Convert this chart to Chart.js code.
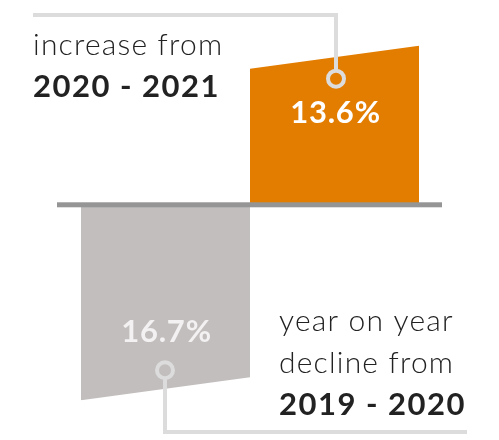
<!DOCTYPE html>
<html>
<head>
<meta charset="utf-8">
<script src="https://cdn.jsdelivr.net/npm/chart.js@4.4.0/dist/chart.umd.min.js"></script>
<style>
  html, body { margin: 0; padding: 0; background: #fff; }
  #chart { display: block; }
</style>
</head>
<body>
<canvas id="chart" width="499" height="440"></canvas>
<script>
// Dados do gráfico
const categories = ['2019 - 2020', '2020 - 2021'];
const changes = [-16.7, 13.6];
const valueLabels = ['16.7%', '13.6%'];
const barColors = ['#c2bebd', '#e37d00'];
const upCaption = ['increase from', '2020 - 2021'];
const downCaption = ['year on year', 'decline from', '2019 - 2020'];

const SLANT = 23;
const FONT = 'Lato, "Open Sans", sans-serif';

// Recorta as barras com a ponta inclinada
const slantClip = {
  id: 'slantClip',
  beforeDatasetsDraw(chart) {
    const ctx = chart.ctx;
    const bars = chart.getDatasetMeta(0).data;
    ctx.save();
    ctx.beginPath();
    bars.forEach((b) => {
      const l = b.x - b.width / 2;
      const r = b.x + b.width / 2;
      if (b.y < b.base) {
        ctx.moveTo(l, b.y + SLANT);
        ctx.lineTo(r, b.y);
        ctx.lineTo(r, b.base);
        ctx.lineTo(l, b.base);
      } else {
        ctx.moveTo(l, b.base);
        ctx.lineTo(r, b.base);
        ctx.lineTo(r, b.y - SLANT);
        ctx.lineTo(l, b.y);
      }
      ctx.closePath();
    });
    ctx.clip();
  },
  afterDatasetsDraw(chart) {
    chart.ctx.restore();
  }
};

function texto(ctx, str, x, y, font, spacing) {
  ctx.font = font;
  ctx.letterSpacing = spacing + 'px';
  ctx.fillText(str, x, y);
}

// Linha de base, conectores e textos
const decor = {
  id: 'decor',
  afterDraw(chart) {
    const ctx = chart.ctx;
    const area = chart.chartArea;
    const zero = chart.scales.y.getPixelForValue(0);
    const bars = chart.getDatasetMeta(0).data;
    const down = bars[0];
    const up = bars[1];

    ctx.save();
    ctx.fillStyle = '#959595';
    ctx.fillRect(area.left - 24, zero - 2.5, area.right - area.left + 47, 5);

    ctx.strokeStyle = '#dcdcdc';
    ctx.lineWidth = 4;
    // conector de cima
    const cu = { x: up.x + 1.5, y: up.y + 33 };
    ctx.beginPath();
    ctx.moveTo(cu.x, cu.y - 8);
    ctx.lineTo(cu.x, 15);
    ctx.lineTo(33, 15);
    ctx.stroke();
    ctx.beginPath();
    ctx.arc(cu.x, cu.y, 8, 0, Math.PI * 2);
    ctx.stroke();
    // conector de baixo
    const cd = { x: down.x - 0.5, y: down.y - 30 };
    ctx.beginPath();
    ctx.moveTo(cd.x, cd.y + 8);
    ctx.lineTo(cd.x, 432);
    ctx.lineTo(467, 432);
    ctx.stroke();
    ctx.beginPath();
    ctx.arc(cd.x, cd.y, 8, 0, Math.PI * 2);
    ctx.stroke();

    const light = '300 30px ' + FONT;
    const bold = 'bold 31px ' + FONT;

    // valores
    ctx.textAlign = 'center';
    ctx.textBaseline = 'middle';
    ctx.fillStyle = '#ffffff';
    texto(ctx, valueLabels[1], up.x + 1, up.y + 67, bold, 0.8);
    ctx.fillStyle = '#f3f1f1';
    texto(ctx, valueLabels[0], down.x + 1, down.y - 68, bold, 0.8);

    // legendas
    ctx.textAlign = 'left';
    ctx.textBaseline = 'alphabetic';
    ctx.fillStyle = '#222222';
    texto(ctx, upCaption[0], 33, 55, light, 1.2);
    texto(ctx, upCaption[1], 33, 97, bold, 1.5);
    texto(ctx, downCaption[0], 279, 331, light, 1.2);
    texto(ctx, downCaption[1], 279, 373, light, 1.2);
    texto(ctx, downCaption[2], 279, 415, bold, 1.5);
    ctx.restore();
  }
};

new Chart(document.getElementById('chart'), {
  type: 'bar',
  data: {
    labels: categories,
    datasets: [{
      data: changes,
      backgroundColor: barColors,
      borderWidth: 0,
      barPercentage: 1,
      categoryPercentage: 1
    }]
  },
  options: {
    responsive: false,
    animation: false,
    layout: { padding: { left: 81, right: 80, top: 0, bottom: 0 } },
    plugins: { legend: { display: false }, tooltip: { enabled: false } },
    scales: {
      x: { display: false },
      y: { display: false, min: -20.1, max: 17.5 }
    }
  },
  plugins: [slantClip, decor]
});
</script>
</body>
</html>
